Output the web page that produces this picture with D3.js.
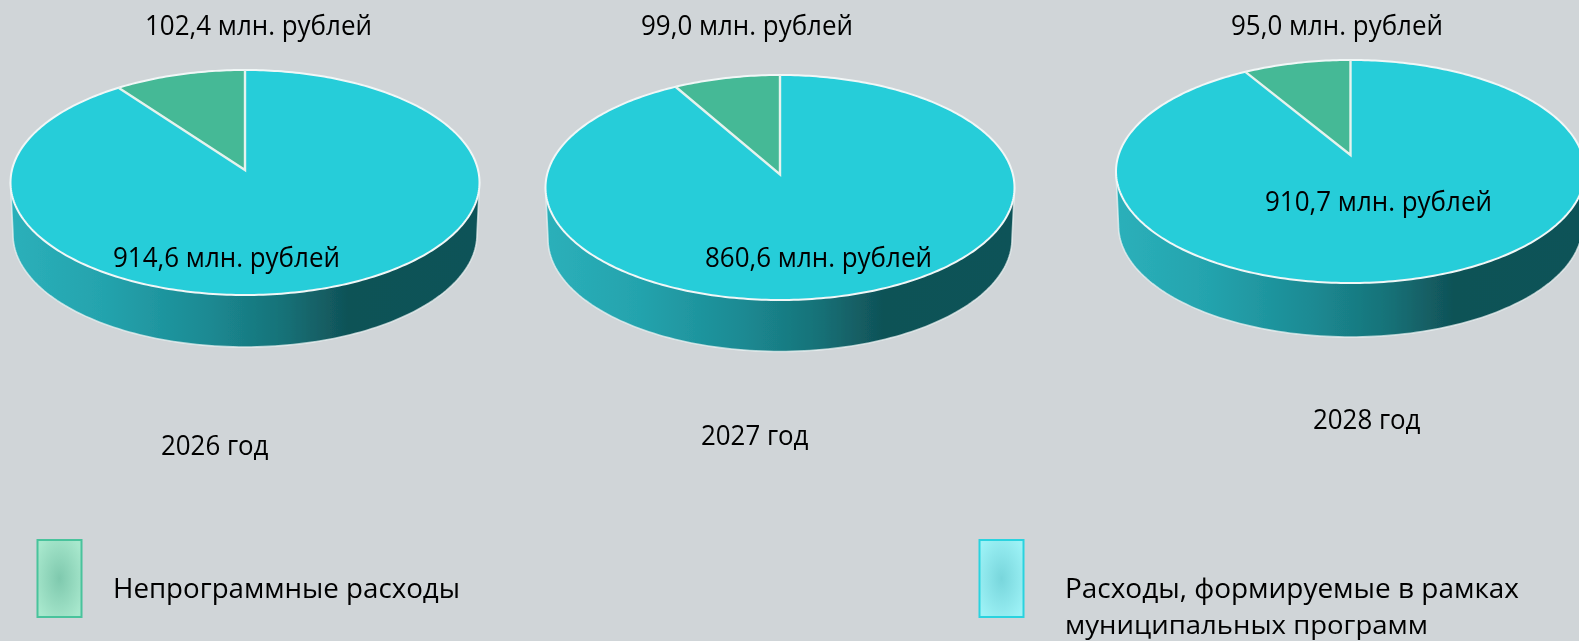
<!DOCTYPE html>
<html><head><meta charset="utf-8">
<script src="https://cdn.jsdelivr.net/npm/d3@7/dist/d3.min.js"></script>
<style>html,body{margin:0;padding:0;background:#d0d5d8;overflow:hidden}svg{display:block}
text{font-family:"Open Sans","Noto Sans",sans-serif;fill:#000}</style></head><body>
<script>
// Data
const years = ["2026 год", "2027 год", "2028 год"];
const nonProgramLabels = ["102,4 млн. рублей", "99,0 млн. рублей", "95,0 млн. рублей"];
const programLabels = ["914,6 млн. рублей", "860,6 млн. рублей", "910,7 млн. рублей"];
const programValues = [914.6, 860.6, 910.7];
// Green slice sizes as drawn in the picture
const nonProgramDrawn = [102.4, 77, 85];
const legendNames = ["Непрограммные расходы", ["Расходы, формируемые в рамках", "муниципальных программ"]];

// Layout
const W = 1579, H = 641;
const pieBoxes = [
  {apexX:245, apexY:170, top:70, bottom:295, rx:234.5, base:347},
  {apexX:780, apexY:174.5, top:75, bottom:300, rx:234.5, base:351.5},
  {apexX:1350.5, apexY:155, top:60, bottom:283, rx:234.5, base:337}
];
const textPos = [
  {top:[145,35], inner:[113,267], year:[161,455]},
  {top:[641,35], inner:[705,267], year:[701,445]},
  {top:[1231,35], inner:[1265,211], year:[1313,429]}
];

const svg = d3.select("body").append("svg").attr("width",W).attr("height",H);
const defs = svg.append("defs");
const side = defs.append("linearGradient").attr("id","side");
[[0,"#2bb0ba"],[.2,"#24a3ad"],[.42,"#1b8a93"],[.58,"#177278"],[.72,"#105257"],[1,"#115358"]]
  .forEach(([o,c])=>side.append("stop").attr("offset",o).attr("stop-color",c));
defs.append("filter").attr("id","soft").attr("x","-5%").attr("y","-5%").attr("width","110%").attr("height","110%")
  .append("feGaussianBlur").attr("stdDeviation",0.75);
defs.append("filter").attr("id","softer").attr("x","-5%").attr("y","-5%").attr("width","110%").attr("height","110%")
  .append("feGaussianBlur").attr("stdDeviation",0.35);
function radial(id,inner,outer){
  const g = defs.append("radialGradient").attr("id",id).attr("cx","50%").attr("cy","50%").attr("r","62%");
  g.append("stop").attr("offset",0).attr("stop-color",inner);
  g.append("stop").attr("offset",1).attr("stop-color",outer);
}
radial("legG","#7fc9ae","#a8e8cd");
radial("legB","#78d6dc","#9df2f6");

const pieGen = d3.pie().sort(null).startAngle(0).endAngle(2*Math.PI);
const lineGen = d3.line();
const charts = svg.append("g").attr("filter","url(#soft)");

pieBoxes.forEach((b,i)=>{
  const g = charts.append("g").attr("transform",`translate(${b.apexX},${b.apexY})`);
  // Perspective map of a flat unit circle onto the ellipse of the top face
  const T = b.apexY-b.top, Bt = b.bottom-b.apexY;
  const k = (Bt-T)/(Bt+T);
  const B = T*(1+k);
  const A = b.rx*Math.sqrt(1-k*k);
  const project = (a,r=1)=>{
    const u=r*Math.sin(a), v=r*Math.cos(a), w=1+k*v;
    return [A*u/w, -B*v/w];
  };
  const ey = (Bt-T)/2, ry=(Bt+T)/2;
  // Side wall
  const depth = b.base-b.bottom, inset=2.5;
  const wallPts = [[-b.rx,ey]].concat(
    d3.range(0,1.0001,1/120).map(t=>{
      const a=Math.PI*t; return [-(b.rx-inset)*Math.cos(a), ey+depth+ry*Math.sin(a)];
    }),[[b.rx,ey]]);
  g.append("path").attr("d",lineGen(wallPts)+"Z").attr("fill","url(#side)")
    .attr("stroke","#eef5f5").attr("stroke-opacity",.7).attr("stroke-width",1.6);
  // Slices
  const arcs = pieGen([programValues[i], nonProgramDrawn[i]]);
  const colors = ["#28cdd9","#45b996"];
  arcs.forEach((d,j)=>{
    const n = Math.max(8,Math.ceil((d.endAngle-d.startAngle)*60));
    const pts = [[0,0]].concat(d3.range(n+1).map(s=>project(d.startAngle+(d.endAngle-d.startAngle)*s/n)));
    g.append("path").attr("d",lineGen(pts)+"Z").attr("fill",colors[j]);
  });
  // Outline over both slices
  const rim = d3.range(0,361,1).map(deg=>project(deg*Math.PI/180));
  g.append("path").attr("d",lineGen(rim)+"Z").attr("fill","none").attr("stroke","#f1f7f7").attr("stroke-width",2);
  const cut = project(arcs[0].endAngle);
  g.append("path").attr("d",lineGen([cut,[0,0],project(0)])).attr("fill","none")
    .attr("stroke","#e6f3ee").attr("stroke-width",2.4);
});

const labels = svg.append("g").attr("filter","url(#softer)");
function put(x,y,str,size,len){
  const t = labels.append("text").attr("x",x).attr("y",y).attr("font-size",size).text(str);
  if(len) t.attr("textLength",len).attr("lengthAdjust","spacingAndGlyphs");
  return t;
}
textPos.forEach((p,i)=>{
  put(p.top[0],p.top[1],nonProgramLabels[i],26.5,i===0?227:212);
  put(p.inner[0],p.inner[1],programLabels[i],26.5,227);
  put(p.year[0],p.year[1],years[i],26.5,107.5);
});

// Legend
const legend = [
  {x:37.5,fill:"url(#legG)",stroke:"#49c39c"},
  {x:979.5,fill:"url(#legB)",stroke:"#2cd3df"}
];
legend.forEach(l=>{
  svg.append("rect").attr("x",l.x).attr("y",540).attr("width",44).attr("height",77)
    .attr("fill",l.fill).attr("stroke",l.stroke).attr("stroke-width",2).attr("filter","url(#softer)");
});
put(113,598,legendNames[0],26.5,347);
put(1065,598,legendNames[1][0],26.5,454);
put(1065,633.5,legendNames[1][1],26,363);
</script></body></html>
